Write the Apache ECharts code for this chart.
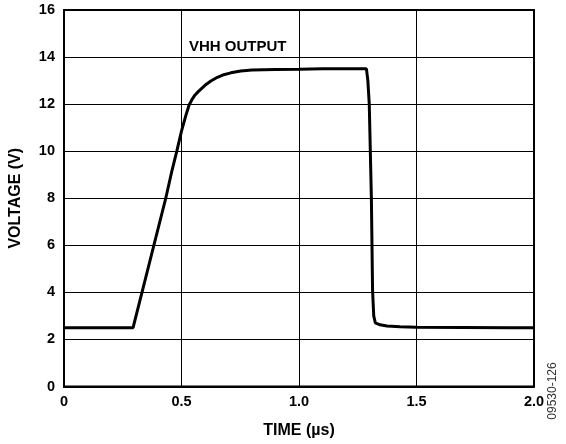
<!DOCTYPE html>
<html>
<head>
<meta charset="utf-8">
<script src="https://cdn.jsdelivr.net/npm/echarts@6/dist/echarts.min.js"></script>
<style>html,body{margin:0;padding:0;background:#fff;}#c{width:566px;height:444px;}</style>
</head>
<body>
<div id="c"></div>
<script>
var timeUs = [0, 0.294, 0.433, 0.46, 0.48, 0.5, 0.518, 0.532, 0.545, 0.557, 0.57, 0.585, 0.6, 0.625, 0.653, 0.68, 0.71, 0.752, 0.8, 0.9, 1.0, 1.1, 1.2, 1.287, 1.293, 1.299, 1.308, 1.313, 1.318, 1.325, 1.345, 1.374, 1.43, 1.5, 1.7, 1.9, 2.0];
var voltage = [2.5, 2.5, 8.0, 9.2, 10.0, 10.85, 11.5, 11.95, 12.2, 12.38, 12.52, 12.66, 12.8, 12.98, 13.14, 13.25, 13.33, 13.41, 13.45, 13.47, 13.48, 13.5, 13.5, 13.5, 13.0, 12.0, 8.0, 4.1, 3.0, 2.7, 2.62, 2.57, 2.54, 2.52, 2.51, 2.5, 2.5];
var seriesLabel = "VHH OUTPUT";
var xName = "TIME (µs)";
var yName = "VOLTAGE (V)";
var figureId = "09530-126";

var data = timeUs.map(function (t, i) { return [t, voltage[i]]; });
var font = "Liberation Sans, Arial, Helvetica, sans-serif";
var chart = echarts.init(document.getElementById('c'), null, {renderer: 'canvas'});
chart.setOption({
  animation: false,
  backgroundColor: '#fff',
  grid: {left: 63, right: 32, top: 10, bottom: 57.5, show: true, borderColor: '#000', borderWidth: 2, backgroundColor: 'transparent'},
  xAxis: {
    type: 'value', min: 0, max: 2, interval: 0.5,
    name: xName, nameLocation: 'middle', nameGap: 36,
    nameTextStyle: {fontFamily: font, fontWeight: 'bold', fontSize: 16, color: '#000'},
    axisLine: {show: true, lineStyle: {color: '#000', width: 2}},
    axisTick: {show: false},
    axisLabel: {fontFamily: font, fontWeight: 'bold', fontSize: 14.5, color: '#000', margin: 8,
      formatter: function (v) { return v === 0 ? '0' : v.toFixed(1); }},
    splitLine: {show: true, lineStyle: {color: '#000', width: 1}}
  },
  yAxis: {
    type: 'value', min: 0, max: 16, interval: 2,
    name: yName, nameLocation: 'middle', nameGap: 40,
    nameTextStyle: {fontFamily: font, fontWeight: 'bold', fontSize: 16, color: '#000'},
    axisLine: {show: true, lineStyle: {color: '#000', width: 2}},
    axisTick: {show: false},
    axisLabel: {fontFamily: font, fontWeight: 'bold', fontSize: 14.5, color: '#000', margin: 9},
    splitLine: {show: true, lineStyle: {color: '#000', width: 1}}
  },
  graphic: [
    {type: 'text', left: 189, top: 39, style: {text: seriesLabel, font: 'bold 15px ' + font, fill: '#000'}},
    {type: 'text', x: 553, y: 391, rotation: Math.PI / 2,
      style: {text: figureId, font: '12px ' + font, fill: '#333', align: 'center', verticalAlign: 'middle'}}
  ],
  series: [{
    type: 'line', data: data, showSymbol: false, smooth: false,
    lineStyle: {color: '#000', width: 3}
  }]
});
</script>
</body>
</html>
